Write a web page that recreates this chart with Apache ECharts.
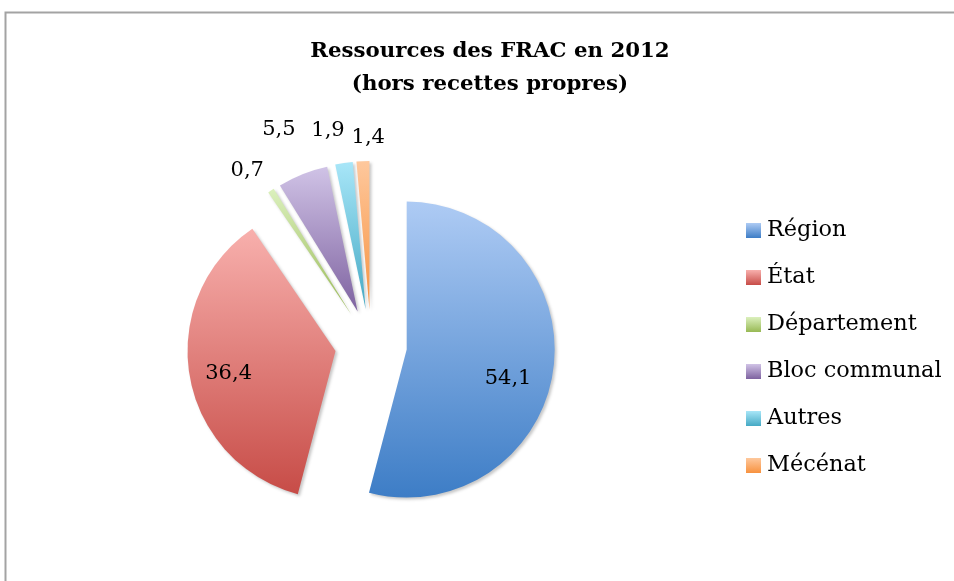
<!DOCTYPE html>
<html>
<head>
<meta charset="utf-8">
<title>Ressources des FRAC en 2012</title>
<script src="https://cdn.jsdelivr.net/npm/echarts@6/dist/echarts.min.js"></script>
<style>
    html, body { margin: 0; padding: 0; background: #fff; }
    #chart { width: 954px; height: 581px; }
</style>
</head>
<body>
<div id="chart"></div>
<script>
// data (%)
const categories = ["Région", "État", "Département", "Bloc communal", "Autres", "Mécénat"];
const values = [54.1, 36.4, 0.7, 5.5, 1.9, 1.4];

// office-style gradients: [top, bottom]
const gradients = [
    ["#aecbf4", "#3d7dc6"],
    ["#f8b0ad", "#c74c47"],
    ["#dbf0bd", "#98b954"],
    ["#d0c3e6", "#7e62a0"],
    ["#a8e6f8", "#45a9c4"],
    ["#fec89d", "#f7923f"]
];
const insideLabel = [true, true, false, false, false, false];
// small label shifts (px) to mimic excel "best fit"
const labelNudge = [[25, 19], [-31, 9], [10, -2], [6, -24], [9, -11], [28, -2]];

const font = "'DejaVu Serif', 'Liberation Serif', serif";
const fmt = v => String(v).replace(".", ",");

const chart = echarts.init(document.getElementById("chart"), null, { renderer: "canvas" });

const seriesData = categories.map((name, i) => ({
    name: name,
    value: values[i],
    selected: true,
    itemStyle: {
        color: new echarts.graphic.LinearGradient(0, 0, 0, 1, [
            { offset: 0, color: gradients[i][0] },
            { offset: 1, color: gradients[i][1] }
        ])
    },
    label: insideLabel[i] ? { position: "inside" } : { position: "outside" }
}));

chart.setOption({
    animation: false,
    backgroundColor: "#ffffff",
    title: {
        text: "Ressources des FRAC en 2012\n(hors recettes propres)",
        left: 490,
        top: 35,
        padding: 0,
        textAlign: "center",
        textStyle: { fontFamily: font, fontWeight: "bold", fontSize: 21.3, lineHeight: 33, color: "#000" }
    },
    legend: {
        orient: "vertical",
        left: 741,
        top: 214,
        itemWidth: 15,
        itemHeight: 15,
        itemGap: 24,
        icon: "rect",
        data: categories,
        textStyle: { fontFamily: font, fontSize: 22.4, lineHeight: 23, color: "#000", padding: [0, 0, 0, 1] }
    },
    graphic: [{
        type: "rect",
        silent: true,
        shape: { x: 5.5, y: 12.5, width: 1200, height: 1200 },
        style: { fill: "none", stroke: "#a3a3a3", lineWidth: 2 }
    }],
    series: [{
        type: "pie",
        center: [371, 345],
        radius: 148,
        startAngle: 90,
        clockwise: true,
        selectedMode: "multiple",
        selectedOffset: 36,
        avoidLabelOverlap: false,
        emphasis: { disabled: true },
        itemStyle: {
            shadowBlur: 3,
            shadowOffsetX: 2,
            shadowOffsetY: 2,
            shadowColor: "rgba(0,0,0,0.22)"
        },
        label: {
            show: true,
            formatter: p => fmt(p.value),
            fontFamily: font,
            fontSize: 21,
            color: "#000"
        },
        labelLine: { show: false, length: 22, length2: 0 },
        labelLayout: p => ({
            hideOverlap: false,
            dx: labelNudge[p.dataIndex][0],
            dy: labelNudge[p.dataIndex][1]
        }),
        data: seriesData
    }]
});
</script>
</body>
</html>
